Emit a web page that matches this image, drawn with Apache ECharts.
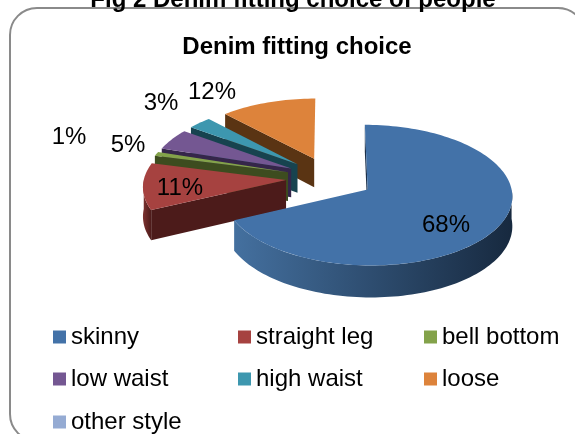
<!DOCTYPE html>
<html>
<head>
<meta charset="utf-8">
<style>html,body{margin:0;padding:0;background:#fff}#chart{width:575px;height:434px}</style>
<script src="https://cdn.jsdelivr.net/npm/echarts@6/dist/echarts.min.js"></script>
</head>
<body>
<div id="chart"></div>
<script>
const categories = ["skinny", "straight leg", "bell bottom", "low waist", "high waist", "loose", "other style"]
const shares = [68, 11, 1, 5, 3, 12, 0]

const topColors = ["#4372a8", "#a64240", "#83a24a", "#745792", "#3d97af", "#dd833b", "#95abd3"]
const wallColors = [
  ["#44709f", "#17293f"],
  ["#7d3230", "#4c1b1a"],
  ["#3d4c1f", "#3d4c1f"],
  ["#35264a", "#35264a"],
  ["#17434f", "#17434f"],
  ["#5a3413", "#5a3413"],
  ["#95abd3", "#95abd3"],
]
const faceColors = ["#1c3049", "#4c1b1a", "#3d4c1f", "#35264a", "#17434f", "#5a3413", "#95abd3"]

// where the percent labels sit, same order as categories
const labelSpots = [[446, 225], [180, 188], [69, 137], [128, 145], [161, 103], [212, 92], null]

// 3d look: pie centre, radii, explode distance, thickness, perspective
const cx = 330, cy = 178, rx = 142, ry = 68
const explode = 0.31, depth = 29, persp = 0.08

const total = shares.reduce((a, b) => a + b, 0)
let running = 0
const spans = shares.map((v) => {
  const from = (running / total) * Math.PI * 2
  running += v
  return [from, (running / total) * Math.PI * 2]
})

function project(x, y, drop) {
  const s = 1 / (1 - persp * y)
  return [cx + rx * x * s, cy + ry * y * s + drop * s]
}

function arcAngles(from, to) {
  const steps = Math.max(4, Math.ceil((to - from) / 0.03))
  const out = []
  for (let i = 0; i <= steps; i++) out.push(from + ((to - from) * i) / steps)
  return out
}

function renderSlice(index) {
  const [a0, a1] = spans[index]
  if (a1 <= a0) return null

  const mid = (a0 + a1) / 2
  const ox = explode * Math.sin(mid)
  const oy = -explode * Math.cos(mid)
  const rim = (a, drop) => project(ox + Math.sin(a), oy - Math.cos(a), drop)
  const apex = (drop) => project(ox, oy, drop)
  const poly = (points, fill) => ({ type: "polygon", shape: { points }, style: { fill } })

  const children = [poly([apex(0), rim(a0, 0), rim(a0, depth), apex(depth)], faceColors[index])]

  // only the front half of the outer wall can be seen
  const wallFrom = Math.max(a0, Math.PI / 2)
  const wallTo = Math.min(a1, Math.PI * 1.5)
  if (wallTo > wallFrom) {
    const wall = arcAngles(wallFrom, wallTo)
    children.push(
      poly(
        wall.map((a) => rim(a, 0)).concat(wall.slice().reverse().map((a) => rim(a, depth))),
        new echarts.graphic.LinearGradient(0, 0, 1, 0, [
          { offset: 0, color: wallColors[index][0] },
          { offset: 1, color: wallColors[index][1] },
        ])
      )
    )
  }

  children.push(poly([apex(0)].concat(arcAngles(a0, a1).map((a) => rim(a, 0))), topColors[index]))
  return { type: "group", children }
}

// back to front so nearer slices paint over the ones behind
const paintOrder = [5, 4, 3, 2, 1, 0, 6]

const chart = echarts.init(document.getElementById("chart"))

const legendBase = {
  orient: "vertical",
  icon: "rect",
  itemWidth: 13,
  itemHeight: 13,
  itemGap: 18,
  selectedMode: false,
  textStyle: { fontFamily: "Liberation Sans", fontSize: 24, color: "#000" },
}

chart.setOption({
  animation: false,
  backgroundColor: "#fff",
  title: [
    {
      text: "Fig 2 Denim fitting choice of people",
      left: 288,
      top: -17,
      textAlign: "center",
      textStyle: { fontFamily: "Liberation Sans", fontSize: 24, fontWeight: "bold", color: "#000" },
    },
    {
      text: "Denim fitting choice",
      left: 292,
      top: 30,
      textAlign: "center",
      textStyle: { fontFamily: "Liberation Sans", fontSize: 24, fontWeight: "bold", color: "#000" },
    },
  ],
  legend: [
    { ...legendBase, left: 48, top: 320, data: [categories[0], categories[3]] },
    { ...legendBase, left: 48, top: 405, data: [categories[6]] },
    { ...legendBase, left: 233, top: 320, data: [categories[1], categories[4]] },
    { ...legendBase, left: 419, top: 320, data: [categories[2], categories[5]] },
  ],
  graphic: [
    {
      type: "rect",
      z: -1,
      shape: { x: 10, y: 8, width: 575, height: 433, r: 27 },
      style: { fill: "none", stroke: "#8a8a8a", lineWidth: 2 },
    },
    ...shares.flatMap((v, i) =>
      labelSpots[i]
        ? [{
            type: "text",
            z: 20,
            x: labelSpots[i][0],
            y: labelSpots[i][1],
            style: {
              text: v + "%",
              fill: "#000",
              font: "24px 'Liberation Sans'",
              align: "center",
              verticalAlign: "middle",
            },
          }]
        : []
    ),
  ],
  series: paintOrder.map((i, order) => ({
    type: "custom",
    name: categories[i],
    coordinateSystem: "none",
    z: 2 + order,
    silent: true,
    itemStyle: { color: topColors[i] },
    data: [shares[i]],
    renderItem: () => renderSlice(i),
  })),
})
</script>
</body>
</html>
